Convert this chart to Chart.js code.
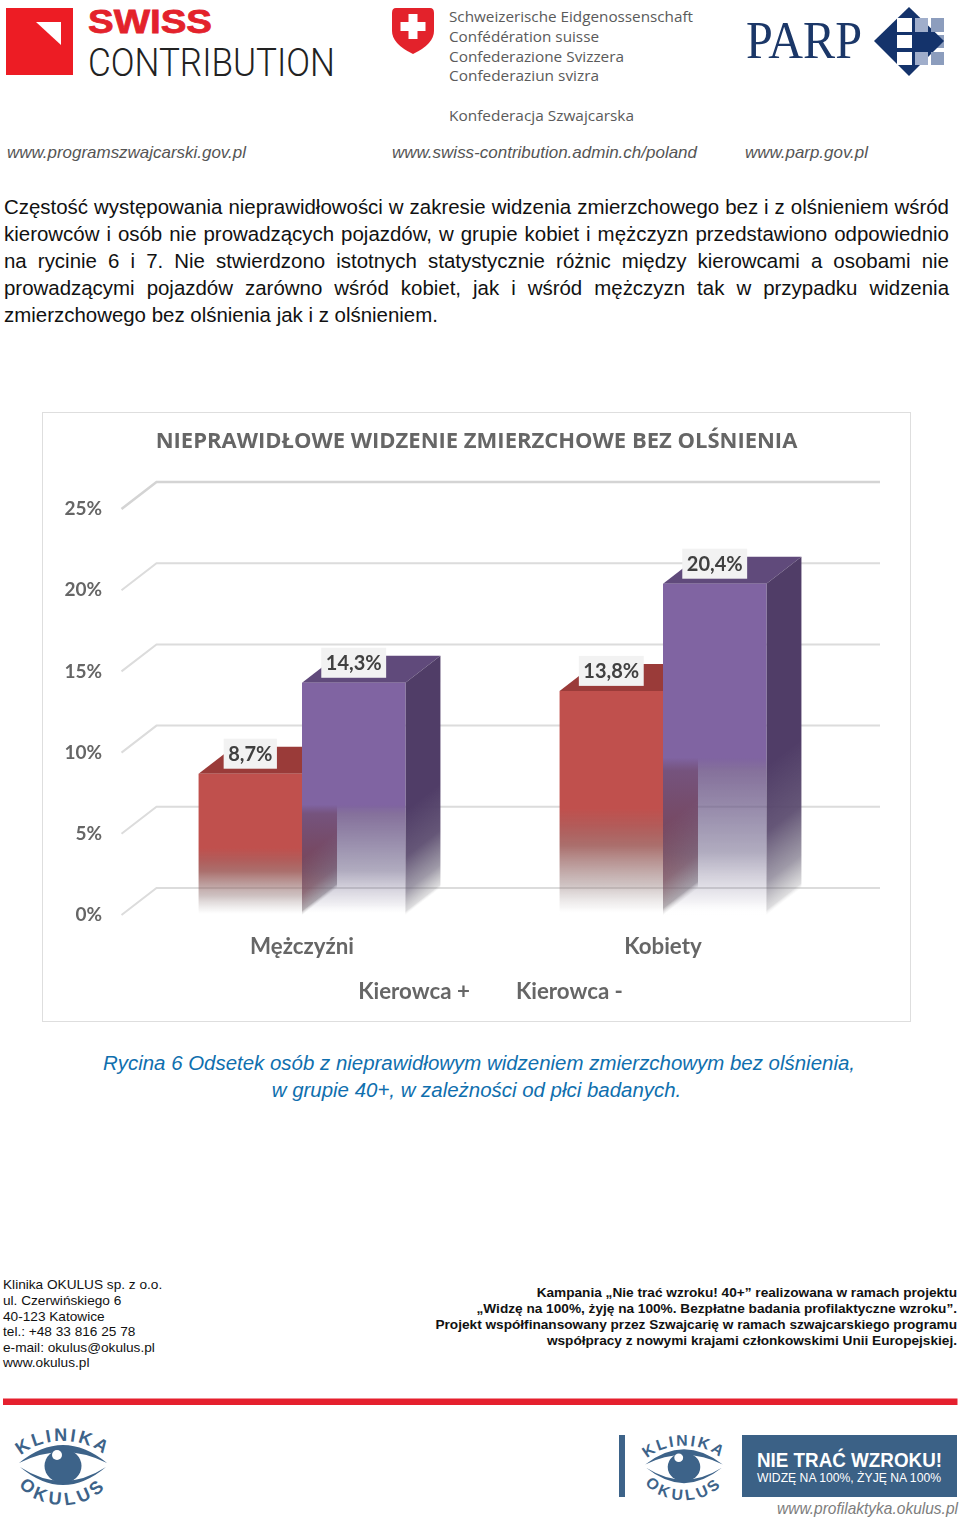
<!DOCTYPE html>
<html lang="pl"><head><meta charset="utf-8">
<style>
html,body{margin:0;padding:0;background:#fff;}
#page{position:relative;width:960px;height:1518px;overflow:hidden;font-family:"Liberation Sans",Arial,sans-serif;background:#fff;}
svg.bg{position:absolute;left:0;top:0;}
.body{position:absolute;left:4px;width:945px;height:27px;line-height:27px;font-size:20.45px;color:#111;text-align:justify;text-align-last:justify;white-space:nowrap;}
.cap{position:absolute;left:0;width:958px;text-align:center;font-size:20.45px;line-height:27px;font-style:italic;color:#0f6fae;}
.fl{position:absolute;left:3px;font-size:13.65px;line-height:16px;color:#111;white-space:nowrap;}
.fr{position:absolute;right:3px;font-size:13.65px;line-height:16px;font-weight:bold;color:#111;white-space:nowrap;text-align:right;}
#frame{position:absolute;left:42px;top:412px;width:867px;height:608px;border:1.5px solid #dedede;}
#chart{position:absolute;left:43px;top:412px;}
</style></head><body>
<div id="page">
<svg class="bg" width="960" height="1518" xmlns="http://www.w3.org/2000/svg">
  <!-- Swiss Contribution -->
  <rect x="6" y="8" width="67" height="67" fill="#ed1c24"/>
  <path d="M36 22 L61 22 L61 45 Z" fill="#fff"/>
  <text x="88" y="33" font-family="Liberation Sans" font-weight="bold" font-size="34" fill="#e3222b" stroke="#e3222b" stroke-width=".8" textLength="124" lengthAdjust="spacingAndGlyphs">SWISS</text>
  <text x="88" y="76" font-family="Roboto" font-weight="300" font-size="39" fill="#222" textLength="247" lengthAdjust="spacingAndGlyphs">CONTRIBUTION</text>
  <!-- Confederation -->
  <path d="M392 13 Q392 8 396 8 L430 8 Q434 8 434 13 L434 31 Q434 44 413 54 Q392 44 392 31 Z" fill="#e3222b"/>
  <rect x="408.5" y="14" width="9" height="25" fill="#fff"/><rect x="400.5" y="22" width="25" height="9" fill="#fff"/>
  <g font-family="Open Sans" font-size="14.5" fill="#5a5a5a">
    <text x="449" y="22" textLength="244" lengthAdjust="spacingAndGlyphs">Schweizerische Eidgenossenschaft</text>
    <text x="449" y="42" textLength="150" lengthAdjust="spacingAndGlyphs">Confédération suisse</text>
    <text x="449" y="62" textLength="175" lengthAdjust="spacingAndGlyphs">Confederazione Svizzera</text>
    <text x="449" y="81" textLength="150" lengthAdjust="spacingAndGlyphs">Confederaziun svizra</text>
    <text x="449" y="121" textLength="185" lengthAdjust="spacingAndGlyphs">Konfederacja Szwajcarska</text>
  </g>
  <!-- PARP -->
  <text x="746" y="58" font-family="Liberation Serif" font-size="53" fill="#1b3768" textLength="116" lengthAdjust="spacingAndGlyphs">PARP</text>
  <rect x="931" y="35" width="13" height="13" fill="#8c9dbd"/>
  <path d="M909 7 L944 41 L909 76 L874 41 Z" fill="#14336b"/>
  <g fill="#fff"><rect x="897" y="18" width="15" height="14"/><rect x="897" y="35" width="15" height="13"/><rect x="897" y="52" width="15" height="13"/></g>
  <g fill="#a0aecb"><rect x="915" y="18" width="13" height="14"/><rect x="915" y="52" width="13" height="13"/></g>
  <g fill="#8c9dbd"><rect x="931" y="18" width="13" height="14"/><rect x="931" y="52" width="13" height="13"/></g>
  <g font-family="Liberation Sans" font-style="italic" font-size="16.5" fill="#555">
    <text x="7" y="158" textLength="239" lengthAdjust="spacingAndGlyphs">www.programszwajcarski.gov.pl</text>
    <text x="392" y="158" textLength="305" lengthAdjust="spacingAndGlyphs">www.swiss-contribution.admin.ch/poland</text>
    <text x="745" y="158" textLength="123" lengthAdjust="spacingAndGlyphs">www.parp.gov.pl</text>
  </g>
  <!-- red rule -->
  <rect x="3" y="1398.5" width="954.5" height="6.5" fill="#e5202e"/>
  <!-- Okulus left -->
  <g transform="translate(63,1466)">
    <path d="M-44 -3 Q0 -39 44 -3 Q0 -25 -44 -3 Z" fill="#3d6389"/>
    <path d="M-43 1 Q0 37 43 1 Q0 29 -43 1 Z" fill="#3d6389"/>
    <ellipse cx="0" cy="0" rx="18.5" ry="17" fill="#3d6389"/>
    <circle cx="-6" cy="-11" r="5" fill="#fff"/>
    <path id="aT1" d="M-50 7.5 A 50 32.5 0 0 1 50 7.5" fill="none"/>
    <path id="aB1" d="M-52 -2.5 A 52 41.5 0 0 0 52 -2.5" fill="none"/>
    <text font-family="Liberation Sans" font-weight="bold" font-size="18" fill="#3d6389"><textPath href="#aT1" startOffset="50%" text-anchor="middle" letter-spacing="2.6">KLINIKA</textPath></text>
    <text font-family="Liberation Sans" font-weight="bold" font-size="18" fill="#3d6389"><textPath href="#aB1" startOffset="50%" text-anchor="middle" letter-spacing="4">OKULUS</textPath></text>
  </g>
  <!-- Okulus right -->
  <rect x="619" y="1435" width="6" height="62" fill="#3d6389"/>
  <g transform="translate(684,1467) scale(.88,.85)">
    <path d="M-44 -3 Q0 -39 44 -3 Q0 -25 -44 -3 Z" fill="#3d6389"/>
    <path d="M-43 1 Q0 37 43 1 Q0 29 -43 1 Z" fill="#3d6389"/>
    <ellipse cx="0" cy="0" rx="18.5" ry="17" fill="#3d6389"/>
    <circle cx="-6" cy="-11" r="5" fill="#fff"/>
    <path id="aT2" d="M-50 7.5 A 50 32.5 0 0 1 50 7.5" fill="none"/>
    <path id="aB2" d="M-52 -2.5 A 52 41.5 0 0 0 52 -2.5" fill="none"/>
    <text font-family="Liberation Sans" font-weight="bold" font-size="18" fill="#3d6389"><textPath href="#aT2" startOffset="50%" text-anchor="middle" letter-spacing="2.6">KLINIKA</textPath></text>
    <text font-family="Liberation Sans" font-weight="bold" font-size="18" fill="#3d6389"><textPath href="#aB2" startOffset="50%" text-anchor="middle" letter-spacing="4">OKULUS</textPath></text>
  </g>
  <rect x="742" y="1435" width="215" height="62" fill="#3b6186"/>
  <text x="757" y="1467" font-family="Liberation Sans" font-weight="bold" font-size="20" fill="#fff" textLength="185" lengthAdjust="spacingAndGlyphs">NIE TRAĆ WZROKU!</text>
  <text x="757" y="1482" font-family="Liberation Sans" font-size="13.5" fill="#fff" textLength="184" lengthAdjust="spacingAndGlyphs">WIDZĘ NA 100%,  ŻYJĘ NA 100%</text>
  <text x="777" y="1514" font-family="Liberation Sans" font-style="italic" font-size="16.5" fill="#7d7d7d" textLength="181" lengthAdjust="spacingAndGlyphs">www.profilaktyka.okulus.pl</text>
</svg>

<div class="body" style="top:193px">Częstość występowania nieprawidłowości w zakresie widzenia zmierzchowego bez i z olśnieniem wśród</div>
<div class="body" style="top:220px">kierowców i osób nie prowadzących pojazdów, w grupie kobiet i mężczyzn przedstawiono odpowiednio</div>
<div class="body" style="top:247px">na rycinie 6 i 7. Nie stwierdzono istotnych statystycznie różnic między kierowcami a osobami nie</div>
<div class="body" style="top:274px">prowadzącymi pojazdów zarówno wśród kobiet, jak i wśród mężczyzn tak w przypadku widzenia</div>
<div class="body" style="top:301px;text-align-last:left">zmierzchowego bez olśnienia jak i z olśnieniem.</div>

<div id="frame"></div>
<canvas id="chart" width="867" height="609"></canvas>

<div class="cap" style="top:1049px">Rycina 6 Odsetek osób z nieprawidłowym widzeniem zmierzchowym bez olśnienia,</div>
<div class="cap" style="top:1076px;width:953px">w grupie 40+, w zależności od płci badanych.</div>

<div class="fl" style="top:1277px">Klinika OKULUS sp. z o.o.</div>
<div class="fl" style="top:1293px">ul. Czerwińskiego 6</div>
<div class="fl" style="top:1309px">40-123 Katowice</div>
<div class="fl" style="top:1324px">tel.: +48 33 816 25 78</div>
<div class="fl" style="top:1340px">e-mail: okulus@okulus.pl</div>
<div class="fl" style="top:1355px">www.okulus.pl</div>

<div class="fr" style="top:1285px">Kampania „Nie trać wzroku! 40+” realizowana w ramach projektu</div>
<div class="fr" style="top:1301px">„Widzę na 100%, żyję na 100%. Bezpłatne badania profilaktyczne wzroku”.</div>
<div class="fr" style="top:1317px">Projekt współfinansowany przez Szwajcarię w ramach szwajcarskiego programu</div>
<div class="fr" style="top:1333px">współpracy z nowymi krajami członkowskimi Unii Europejskiej.</div>
</div>

<script src="https://cdn.jsdelivr.net/npm/chart.js@4/dist/chart.umd.min.js"></script>
<script>
const chartTitle = "NIEPRAWIDŁOWE WIDZENIE ZMIERZCHOWE BEZ OLŚNIENIA";
const categories = ["Mężczyźni", "Kobiety"];
const seriesNames = ["Kierowca +", "Kierowca -"];
const kierowcaPlus = [8.7, 13.8];
const kierowcaMinus = [14.3, 20.4];
const axisMax = 25;
const axisStep = 5;

const DX = 35, DY = 27;          // depth of the 3D projection
const GRID_RIGHT = 880;          // page x of the back wall's right end
const CANVAS_LEFT = 43;
const FONT = "Lato";

const FRONT_STOPS = [
  [[0,"rgba(192,80,77,1)"],[.525,"rgba(192,80,77,1)"],[.6,"rgba(175,82,80,.95)"],[.69,"rgba(150,75,72,.8)"],[.865,"rgba(140,110,110,.42)"],[.97,"rgba(160,150,150,.08)"],[1,"rgba(255,255,255,0)"]],
  [[0,"rgba(128,100,162,1)"],[.525,"rgba(128,100,162,1)"],[.565,"rgba(112,88,138,.85)"],[.72,"rgba(100,85,130,.62)"],[.81,"rgba(95,85,125,.49)"],[.883,"rgba(95,85,125,.27)"],[.96,"rgba(95,85,125,.08)"],[1,"rgba(255,255,255,0)"]]
];
const SIDE_STOPS = [
  [[0,"rgba(149,55,53,1)"],[.6,"rgba(149,55,53,1)"],[.85,"rgba(130,80,85,.8)"],[.97,"rgba(120,110,115,.55)"],[1,"rgba(200,200,200,.1)"]],
  [[0,"rgba(80,61,103,1)"],[.55,"rgba(80,61,103,1)"],[.75,"rgba(88,72,108,.92)"],[.9,"rgba(100,92,115,.62)"],[.985,"rgba(120,118,125,.25)"],[1,"rgba(200,200,200,.03)"]]
];
const TOP_COLORS = ["#9a3b39", "#604a7b"];

function grad(ctx, x0, y0, x1, y1, stops){
  const g = ctx.createLinearGradient(x0, y0, x1, y1);
  stops.forEach(s => g.addColorStop(s[0], s[1]));
  return g;
}
function frontFill(c){
  const chart = c.chart, stops = FRONT_STOPS[c.datasetIndex];
  if (!chart.chartArea || !c.parsed) return stops[0][1];
  const y = chart.scales.y;
  return grad(chart.ctx, 0, y.getPixelForValue(c.parsed.y), 0, y.getPixelForValue(0), stops);
}
function poly(ctx, pts, fill){
  ctx.beginPath();
  pts.forEach((p, i) => i ? ctx.lineTo(p[0], p[1]) : ctx.moveTo(p[0], p[1]));
  ctx.closePath();
  ctx.fillStyle = fill;
  ctx.fill();
}

const wall3d = {
  id: "wall3d",
  beforeDatasetsDraw(chart){
    const ctx = chart.ctx, y = chart.scales.y, left = chart.chartArea.left;
    const right = GRID_RIGHT - CANVAS_LEFT;
    ctx.save();
    ctx.lineCap = "butt";
    y.ticks.forEach(t => {
      const py = y.getPixelForValue(t.value);
      const top = t.value === axisMax;
      ctx.strokeStyle = top ? "#d4d4d4" : "#dcdcdc";
      ctx.lineWidth = top ? 2.6 : 2;
      ctx.beginPath();
      ctx.moveTo(left, py);
      ctx.lineTo(left + DX, py - DY);
      ctx.lineTo(right, py - DY);
      ctx.stroke();
    });
    [0, 1].forEach(di => {
      const meta = chart.getDatasetMeta(di);
      meta.data.forEach(el => {
        const xr = el.x + el.width / 2, xl = el.x - el.width / 2, yt = el.y, yb = el.base;
        const H = yb - yt, L = Math.hypot(DX, DY), nx = DY / L, ny = DX / L, k = H * ny;
        poly(ctx, [[xl, yt], [xr, yt], [xr + DX, yt - DY], [xl + DX, yt - DY]], TOP_COLORS[di]);
        poly(ctx, [[xr, yt], [xr + DX, yt - DY], [xr + DX, yb - DY], [xr, yb]],
          grad(ctx, xr, yt, xr + nx * k, yt + ny * k, SIDE_STOPS[di]));
      });
      meta.controller.draw();
    });
    ctx.restore();
  },
  beforeDatasetDraw(){ return false; },
  afterDatasetsDraw(chart){
    const ctx = chart.ctx;
    ctx.save();
    ctx.font = "bold 20px " + FONT;
    ctx.textAlign = "center";
    ctx.textBaseline = "middle";
    chart.data.datasets.forEach((ds, di) => {
      chart.getDatasetMeta(di).data.forEach((el, i) => {
        const txt = ds.data[i].toFixed(1).replace(".", ",") + "%";
        const w = ctx.measureText(txt).width + 9;
        const cy = el.y - 20;
        ctx.fillStyle = "#f2f2f2";
        ctx.fillRect(el.x - w / 2, cy - 15, w, 30);
        ctx.fillStyle = "#404040";
        ctx.fillText(txt, el.x, cy + 1);
      });
    });
    ctx.restore();
  }
};

new Chart(document.getElementById("chart"), {
  type: "bar",
  data: {
    labels: categories,
    datasets: [
      { label: seriesNames[0], data: kierowcaPlus, yAxisID: "y", backgroundColor: frontFill, borderWidth: 0 },
      { label: seriesNames[1], data: kierowcaMinus, yAxisID: "y", backgroundColor: frontFill, borderWidth: 0 }
    ]
  },
  plugins: [wall3d],
  options: {
    responsive: false,
    animation: false,
    devicePixelRatio: 1,
    categoryPercentage: 0.573,
    barPercentage: 1,
    layout: { padding: { left: 0, right: 0, top: 0, bottom: 8 } },
    plugins: {
      title: {
        display: true, text: chartTitle, color: "#666666", fullSize: true,
        font: { family: "Open Sans", size: 22, weight: "bold", lineHeight: 1.2 },
        padding: { top: 16.8, bottom: 53.8 }
      },
      legend: {
        display: true, position: "bottom", fullSize: true,
        labels: {
          color: "#666666", boxWidth: 17, boxHeight: 2, padding: 18,
          font: { family: FONT, size: 22.3, weight: "bold" },
          generateLabels: chart => chart.data.datasets.map((d, i) => ({
            text: d.label, datasetIndex: i, fillStyle: "rgba(0,0,0,0)", strokeStyle: "rgba(0,0,0,0)", lineWidth: 0, fontColor: "#666666"
          }))
        }
      },
      tooltip: { enabled: false }
    },
    scales: {
      x: {
        grid: { display: false, drawTicks: false }, border: { display: false },
        ticks: { color: "#666666", padding: 18.6, font: { family: FONT, size: 22.3, weight: "bold" } },
        afterFit: s => { s.height = 47.7; }
      },
      y: {
        min: 0, max: axisMax,
        grid: { display: false, drawTicks: false }, border: { display: false },
        ticks: { stepSize: axisStep, color: "#666666", padding: 19.5, callback: v => v + "%", font: { family: FONT, size: 19, weight: "bold" } },
        afterFit: s => { s.width = 78.5; }
      },
      rightInset: {
        position: "right",
        grid: { display: false, drawTicks: false }, border: { display: false },
        ticks: { display: false },
        afterFit: s => { s.width = 66.5; }
      }
    }
  }
});
</script>
</body></html>
